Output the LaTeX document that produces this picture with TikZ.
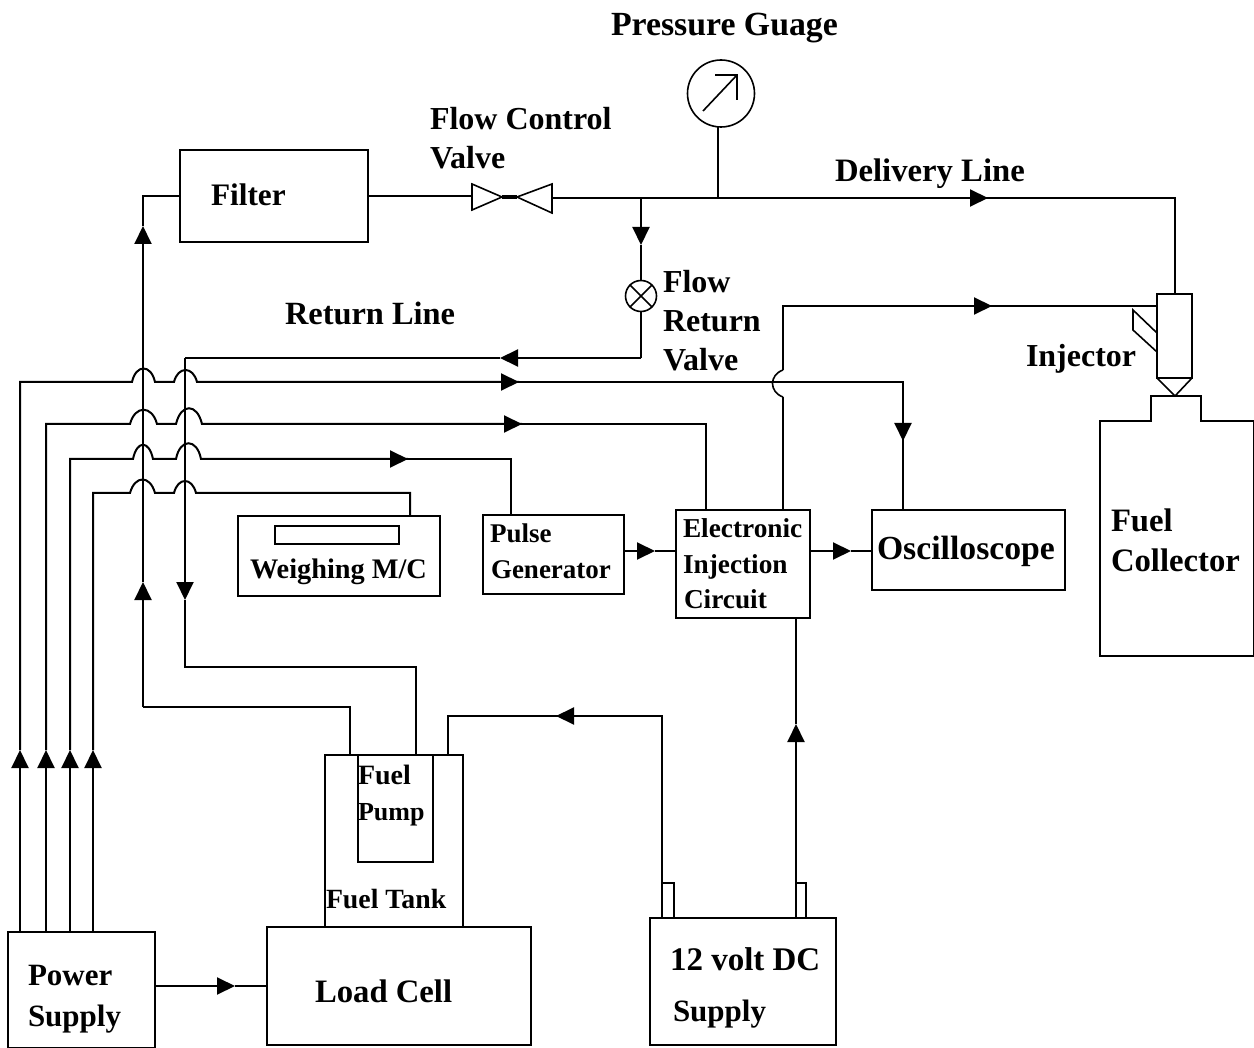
\documentclass[tikz,border=0pt]{standalone}
\usepackage{fontspec}
\setmainfont{Liberation Serif}
\usetikzlibrary{arrows.meta}
\tikzset{
  wire/.style={line width=2pt,line cap=butt,line join=miter,black},
  thin wire/.style={line width=1.6pt,black},
  flow/.style={wire,-{Triangle[length=18pt,width=17pt]}},
  box/.style={draw,line width=2pt,minimum width=#1,inner sep=0pt,outer sep=0pt,anchor=north west},
  fs/.style={font=\fontsize{#1pt}{#1pt}\selectfont\bfseries,anchor=base west,inner sep=0pt,outer sep=0pt},
}
\begin{document}
\begin{tikzpicture}[x=1pt,y=-1pt]
\useasboundingbox (0,0) rectangle (1254,1048);
\fill[white] (0,0) rectangle (1254,1048);
% boxes
\node[box=188pt,minimum height=92pt] (filter) at (180,150) {};
\node[box=202pt,minimum height=80pt] (weigh) at (238,516) {};
\node[box=124pt,minimum height=18pt] (pan) at (275,526) {};
\node[box=141pt,minimum height=79pt] (pulse) at (483,515) {};
\node[box=134pt,minimum height=108pt] (eic) at (676,510) {};
\node[box=193pt,minimum height=80pt] (osc) at (872,510) {};
\node[box=138pt,minimum height=172pt] (tank) at (325,755) {};
\node[box=75pt,minimum height=107pt] (pump) at (358,755) {};
\node[box=264pt,minimum height=118pt] (load) at (267,927) {};
\node[box=147pt,minimum height=116pt] (ps) at (8,932) {};
\node[box=186pt,minimum height=127pt] (dc) at (650,918) {};
\node[box=12pt,minimum height=35pt] (tl) at (662,883) {};
\node[box=10pt,minimum height=35pt] (tr) at (796,883) {};
\node[box=35pt,minimum height=84pt] (inj) at (1157,294) {};
\node[draw,circle,line width=1.6pt,minimum size=67pt,inner sep=0pt,outer sep=0pt] (gauge) at (721,93.5) {};
\node[draw,circle,line width=1.6pt,minimum size=31pt,inner sep=0pt,outer sep=0pt] (rv) at (641,296) {};
\draw[thin wire] (rv.north west) -- (rv.south east) (rv.north east) -- (rv.south west);
\coordinate (ntail) at (703,111);
\coordinate (nhead) at (737,75);
\draw[thin wire] (ntail) -- (nhead);
\draw[wire] (715,75) -- (nhead) -- (737,100);
% injector details
\coordinate (ntip) at (1175,396);
\draw[thin wire] (inj.south west) -- (ntip) -- (inj.south east);
\draw[thin wire] (1157,333) -- (1133,310) -- (1133,330) -- (1157,352);
% collector
\draw[wire] (1100,656) -- (1100,421) -- (1151,421) -- (1151,396) -- (1201,396) -- (1201,421) -- (1254,421) -- (1254,656) -- cycle;
% flow control valve
\coordinate (vl) at (472,196.5);
\coordinate (vml) at (502,197);
\coordinate (vmr) at (517,197);
\coordinate (vr) at (552,198);
\draw[thin wire] (vml) -- (472,184) -- (472,210) -- cycle;
\draw[thin wire] (vmr) -- (552,184) -- (552,213) -- cycle;
\draw[line width=4pt] (vml) -- (vmr);
% main lines
\coordinate (upA) at (143,226);
\coordinate (upB) at (143,582);
\coordinate (baseL) at (143,707);
\coordinate (topL) at (143,196);
\draw[wire] (filter.west |- topL) -- (topL) -- (upA);
\draw[flow] (baseL) -- (upB);
\draw[flow] (upB) -- (upA);
\draw[wire] (baseL) -- (350,707) -- (350,755);
\coordinate (dnR) at (185,600);
\coordinate (retTop) at (185,358);
\coordinate (retTip) at (500,358);
\coordinate (retTurn) at (641,358);
\coordinate (j641) at (641,198);
\coordinate (j718) at (718,198);
\coordinate (dl) at (988,198);
\coordinate (jinj) at (1174.5,198);
\coordinate (rvTip) at (641,245);
\draw[wire] (filter.east |- vl) -- (vl);
\draw[wire] (vr) -- (j641) -- (j718) -- (dl);
\draw[flow] (j718) -- (dl);
\draw[wire] (dl) -- (jinj) -- (inj.north);
\draw[wire] (gauge.south -| j718) -- (j718);
\draw[flow] (j641) -- (rvTip);
\draw[wire] (rvTip) -- (rv.north);
\draw[wire] (rv.south) -- (retTurn);
\draw[flow] (retTurn) -- (retTip);
\draw[wire] (retTip) -- (retTop);
\draw[flow] (retTop) -- (dnR);
\draw[wire] (dnR) -- (185,667) -- (416,667) -- (416,755);
% injection line
\coordinate (hb) at (783,397);
\coordinate (ht) at (783,370);
\coordinate (inTip) at (992,306);
\draw[wire] (eic.north -| hb) -- (hb);
\draw[thin wire] (hb) .. controls (769,392) and (769,375) .. (ht);
\draw[wire] (ht) -- (783,306) -- (inTip);
\draw[flow] (783,306) -- (inTip);
\draw[wire] (inTip) -- (inj.west |- inTip);
% power lines
\coordinate (p1) at (20,750);
\coordinate (p2) at (46,750);
\coordinate (p3) at (70,750);
\coordinate (p4) at (93,750);
\coordinate (t1) at (519,382);
\coordinate (t2) at (522,424);
\coordinate (t3) at (408,459);
\coordinate (o1) at (903,441);
\draw[flow] (p1 |- ps.north) -- (p1);
\draw[flow] (p2 |- ps.north) -- (p2);
\draw[flow] (p3 |- ps.north) -- (p3);
\draw[flow] (p4 |- ps.north) -- (p4);
\draw[wire] (p1) -- (20,382) -- (132,382) .. controls (136,364) and (151,364) .. (155,382) -- (174,382) .. controls (178,366) and (193,366) .. (197,382) -- (t1);
\draw[flow] (400,382) -- (t1);
\draw[wire] (t1) -- (903,382) -- (o1);
\draw[flow] (903,382) -- (o1);
\draw[wire] (o1) -- (osc.north -| o1);
\draw[wire] (p2) -- (46,424) -- (130,424) .. controls (135,405) and (152,405) .. (157,424) -- (176,424) .. controls (181,403) and (197,403) .. (202,424) -- (t2);
\draw[flow] (400,424) -- (t2);
\draw[wire] (t2) -- (706,424) -- (eic.north -| 706,424);
\draw[wire] (p3) -- (70,459) -- (133,459) .. controls (137,440) and (149,440) .. (153,459) -- (176,459) .. controls (180,438) and (197,438) .. (201,459) -- (t3);
\draw[flow] (300,459) -- (t3);
\draw[wire] (t3) -- (511,459) -- (pulse.north -| 511,459);
\draw[wire] (p4) -- (93,493) -- (130,493) .. controls (135,475) and (150,475) .. (155,493) -- (174,493) .. controls (178,477) and (192,477) .. (196,493) -- (410,493) -- (weigh.north -| 410,493);
% horizontal arrows between boxes
\coordinate (a1) at (655,551);
\coordinate (a2) at (851,551);
\coordinate (a3) at (235,986);
\draw[flow] (pulse.east |- a1) -- (a1);
\draw[wire] (a1) -- (eic.west |- a1);
\draw[flow] (eic.east |- a2) -- (a2);
\draw[wire] (a2) -- (osc.west |- a2);
\draw[flow] (ps.east |- a3) -- (a3);
\draw[wire] (a3) -- (load.west |- a3);
% dc wires
\coordinate (dcl) at (556,716);
\coordinate (dcr) at (796,724);
\draw[wire] (tl.north west) -- (662,716) -- (dcl);
\draw[flow] (662,716) -- (dcl);
\draw[wire] (dcl) -- (448,716) -- (448,755);
\draw[flow] (tr.north west) -- (dcr);
\draw[wire] (dcr) -- (eic.south -| dcr);
% labels
\node[fs=33.8] (l1) at (611,36) {Pressure Guage};
\node[fs=32] (l2) at (430,130) {Flow Control};
\node[fs=32] (l3) at (430,169) {Valve};
\node[fs=31.3] (l4) at (211,206) {Filter};
\node[fs=32.7] (l5) at (835,182) {Delivery Line};
\node[fs=32.4] (l6) at (285,325) {Return Line};
\node[fs=32] (l7) at (663,293) {Flow};
\node[fs=32] (l8) at (663,332) {Return};
\node[fs=32] (l9) at (663,371) {Valve};
\node[fs=32] (l10) at (1026,367) {Injector};
\node[fs=32.7] (l11) at (1111,532) {Fuel};
\node[fs=32.7] (l12) at (1111,571) {Collector};
\node[fs=28.3] (l13) at (250,578) {Weighing M/C};
\node[fs=27] (l14) at (490,543) {Pulse};
\node[fs=27] (l15) at (491,578) {Generator};
\node[fs=27.3] (l16) at (683,538) {Electronic};
\node[fs=27.3] (l17) at (683,573) {Injection};
\node[fs=27.3] (l18) at (684,608) {Circuit};
\node[fs=33.7] (l19) at (877,559) {Oscilloscope};
\node[fs=28] (l20) at (358,784) {Fuel};
\node[fs=26] (l21) at (358,820) {Pump};
\node[fs=27.8] (l22) at (326,908) {Fuel Tank};
\node[fs=32.7] (l23) at (315,1002) {Load Cell};
\node[fs=31] (l24) at (28,985) {Power};
\node[fs=31] (l25) at (28,1026) {Supply};
\node[fs=33] (l26) at (670,970) {12 volt DC};
\node[fs=31] (l27) at (673,1021) {Supply};
\end{tikzpicture}
\end{document}
